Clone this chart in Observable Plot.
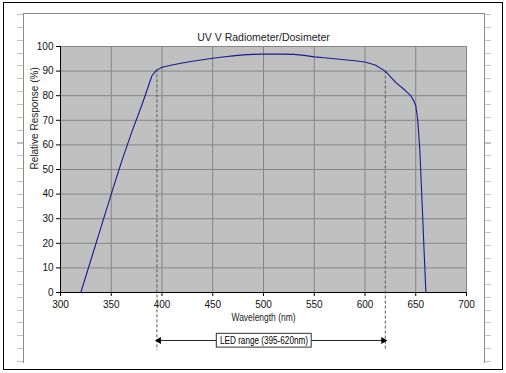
<!DOCTYPE html>
<html>
<head>
<meta charset="utf-8">
<script src="https://cdn.jsdelivr.net/npm/d3@7"></script>
<script src="https://cdn.jsdelivr.net/npm/@observablehq/plot@0.6"></script>
<style>
  body { margin: 0; background: #fff; }
  #wrap { position: relative; width: 506px; height: 373px; overflow: hidden; background: #fff; }
  #outer { position: absolute; left: 3px; top: 2px; width: 500px; height: 368px; border: 1px solid #000; box-sizing: border-box; }
  #inner { position: absolute; left: 23px; top: 13px; width: 462px; height: 350px; border: 1px solid #8c8c8c; border-bottom: none; box-sizing: border-box; }
  .rows { position: absolute; top: 14px; width: 6px; height: 349px;
          background: repeating-linear-gradient(to bottom, #c4c4c4 0px, #c4c4c4 1px, transparent 1px, transparent 12.85px); }
  #chart { position: absolute; left: 0; top: 0; }
</style>
</head>
<body>
<div id="wrap">
  <div id="outer"></div>
  <div class="rows" style="left:17px"></div>
  <div class="rows" style="left:485px"></div>
  <div id="inner"></div>
  <div id="chart"></div>
</div>
<script>
const title = "UV V Radiometer/Dosimeter";
const xLabel = "Wavelength (nm)";
const yLabel = "Relative Response (%)";
const ledLabel = "LED range (395-620nm)";

const xTicks = [300, 350, 400, 450, 500, 550, 600, 650, 700];
const yTicks = [0, 10, 20, 30, 40, 50, 60, 70, 80, 90, 100];

const wavelength = [320, 330, 340, 350, 360, 370, 380, 385, 390, 393, 395, 400, 410, 420, 430, 440, 450, 460, 470, 480, 490, 500, 510, 520, 530, 540, 550, 560, 570, 580, 590, 600, 610, 620, 630, 640, 645, 648, 650, 652, 654, 656, 658, 660];
const response   = [0, 13.3, 26.7, 40, 53, 65, 76, 82, 88, 89.6, 90.5, 91.6, 92.5, 93.3, 94, 94.6, 95.2, 95.7, 96.2, 96.6, 96.8, 96.9, 96.9, 96.9, 96.8, 96.4, 95.8, 95.4, 95.0, 94.6, 94.2, 93.7, 92.5, 90, 85.5, 82, 80, 78, 76, 70, 58, 39, 19, 0];

// LED range annotation
const ledRange = [395, 620];
const ledResponse = [90.5, 90];

const curve = wavelength.map((w, i) => ({w, r: response[i]}));
const led = ledRange.map((w, i) => ({w, r: ledResponse[i]}));

const arrowY = -19.5;   // below the axis, in response units
const dashBottom = -23.6;

const plot = Plot.plot({
  width: 506,
  height: 373,
  marginLeft: 60,
  marginRight: 40,
  marginTop: 46,
  marginBottom: 81,
  style: { background: "transparent", fontFamily: "'Liberation Sans', Arial, sans-serif", fontSize: "10px", color: "#111" },
  x: { domain: [300, 700], axis: null },
  y: { domain: [0, 100], axis: null },
  marks: [
    Plot.frame({ fill: "#c0c0c0", stroke: null }),
    Plot.gridY(yTicks, { stroke: "#858585", strokeOpacity: 1 }),
    Plot.gridX(xTicks, { stroke: "#858585", strokeOpacity: 1 }),
    Plot.axisY({ ticks: yTicks, tickSize: 4, tickPadding: 3, label: null, fontSize: 10, stroke: "#000" }),
    Plot.axisX({ ticks: xTicks, tickSize: 4, tickPadding: 4, label: null, fontSize: 10, stroke: "#000" }),
    Plot.ruleX([300], { stroke: "#000" }),
    Plot.ruleY([0], { stroke: "#000" }),
    // dashed LED range lines
    Plot.ruleX(led, { x: "w", y1: "r", y2: dashBottom, stroke: "#555", strokeDasharray: "3,2" }),
    Plot.line(curve, { x: "w", y: "r", stroke: "#1a1a90", strokeWidth: 1.1 }),
    // LED range arrow
    Plot.ruleY([arrowY], { x1: ledRange[0], x2: ledRange[1], stroke: "#222" }),
    Plot.dot([ledRange[0]], { x: d => d, y: arrowY, symbol: "triangle", rotate: -90, r: 2.6, fill: "#000", stroke: null, dx: 2 }),
    Plot.dot([ledRange[1]], { x: d => d, y: arrowY, symbol: "triangle", rotate: 90, r: 2.6, fill: "#000", stroke: null, dx: -2 }),
    Plot.rect([ledLabel], { x1: 454, x2: 547.5, y1: -16.8, y2: -22.4, fill: "#fff", stroke: "#333" }),
    Plot.text([ledLabel], { x: 500.5, y: arrowY, text: d => d, fontSize: 10, fill: "#000" }),
    // titles
    Plot.text([title], { frameAnchor: "top", dy: -13, text: d => d, fontSize: 10.5, fill: "#222" }),
    Plot.text([xLabel], { frameAnchor: "bottom", dy: 28, text: d => d, fontSize: 10, fill: "#222" }),
    Plot.text([yLabel], { frameAnchor: "left", dx: -26, rotate: -90, text: d => d, fontSize: 10, fill: "#222" })
  ]
});
document.getElementById("chart").appendChild(plot);

// condense the narrow labels to match the reference widths
const narrow = { [ledLabel]: 88, [xLabel]: 64 };
plot.querySelectorAll("text").forEach(t => {
  const w = narrow[t.textContent];
  if (w) { t.setAttribute("textLength", w); t.setAttribute("lengthAdjust", "spacingAndGlyphs"); }
});
</script>
</body>
</html>
